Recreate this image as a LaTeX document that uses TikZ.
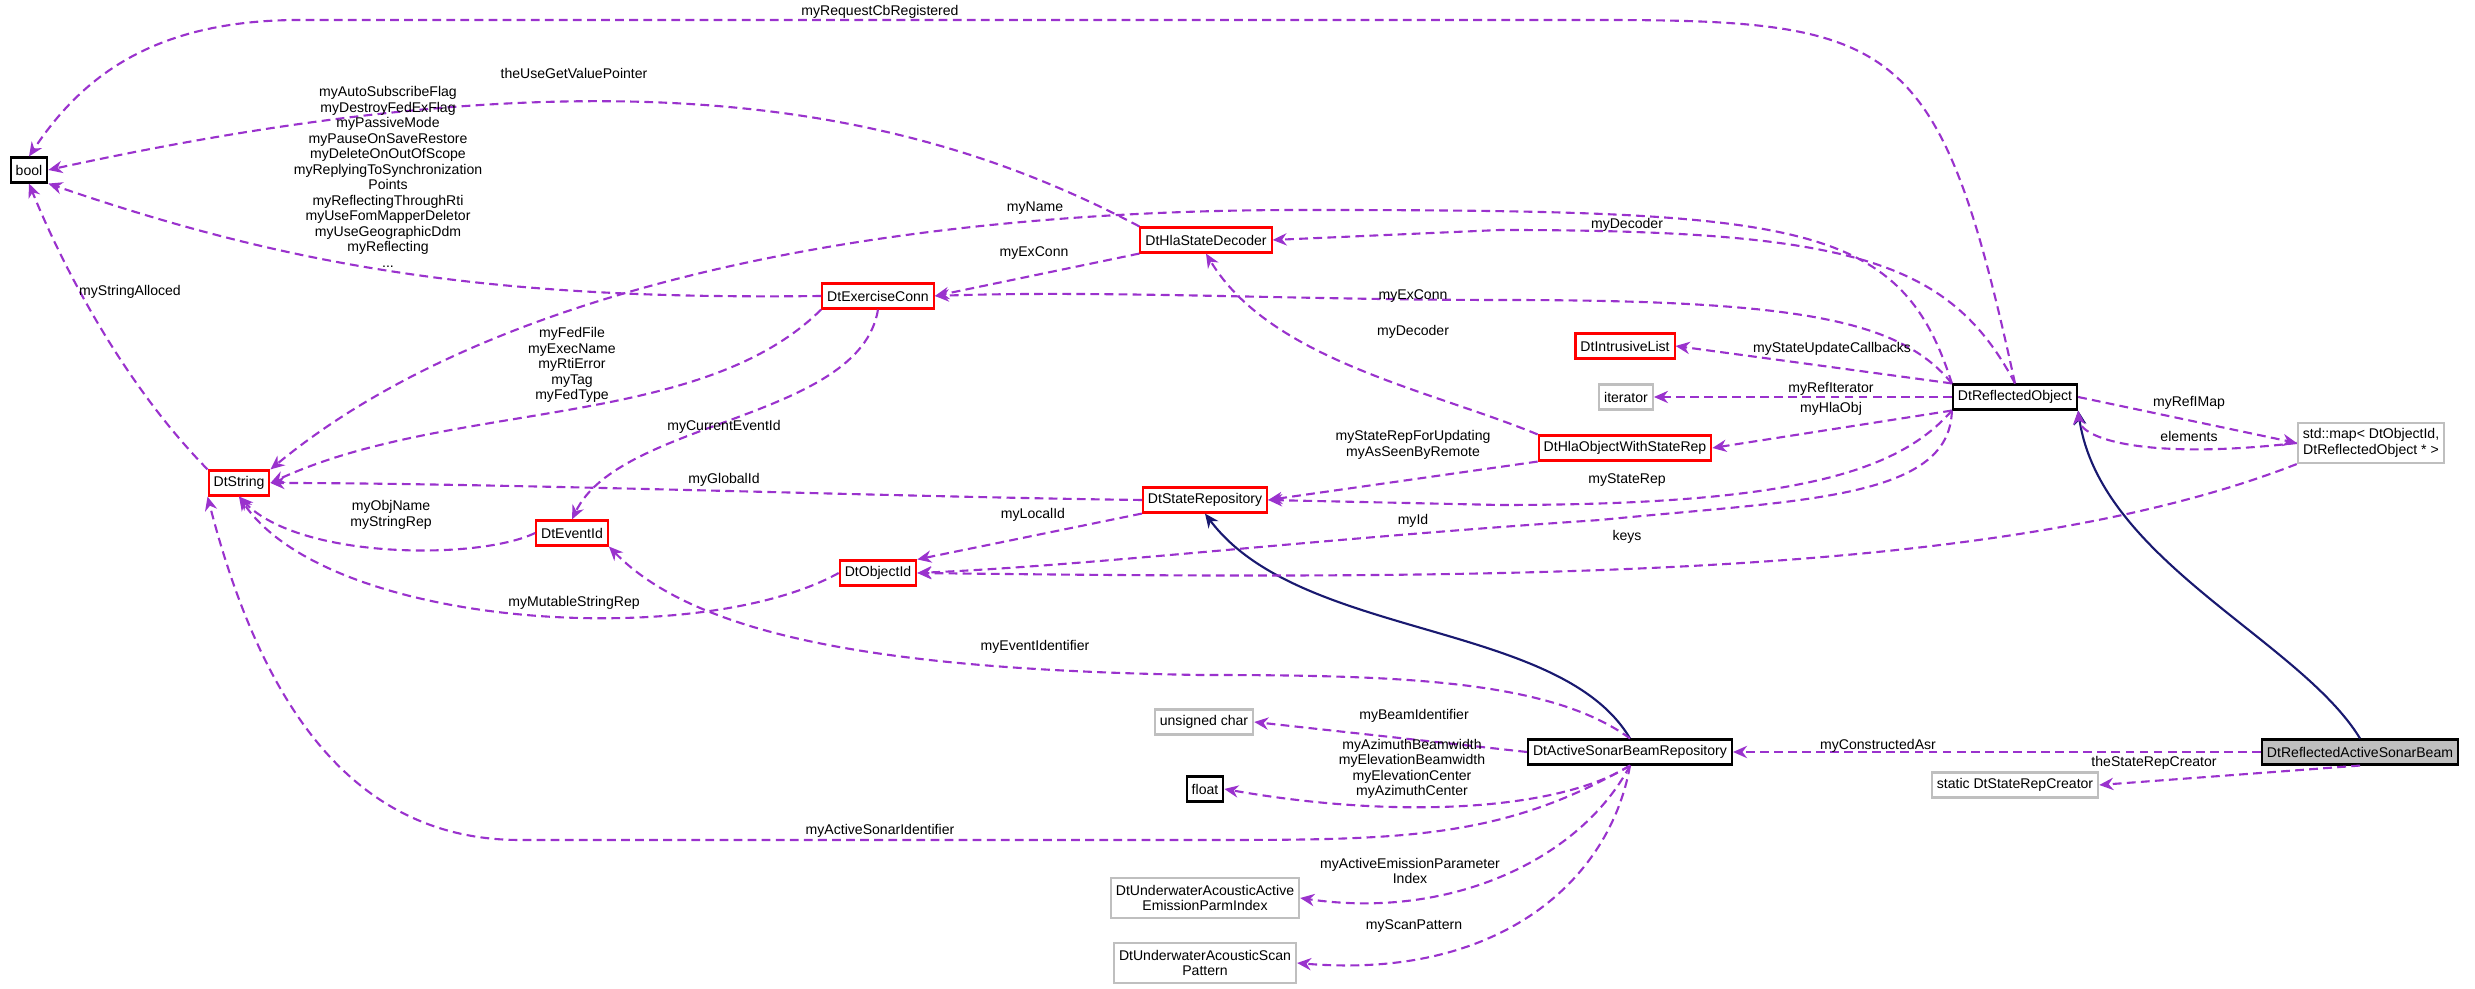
\documentclass[tikz,border=0pt]{standalone}
\usepackage{fontspec}
\setmainfont{Liberation Sans}
\usetikzlibrary{arrows.meta}
\definecolor{dep}{HTML}{9A32CD}
\definecolor{inh}{HTML}{191970}
\tikzset{
    cls/.style={draw, semithick, minimum height=0.25cm, inner xsep=0.05cm, inner ysep=0.02cm, align=center, font=\fontsize{4}{4.4}\selectfont},
    red/.style={cls, draw=red},
    ext/.style={cls, draw=black!25},
    lbl/.style={align=center, font=\fontsize{4}{4.4}\selectfont, inner sep=0.5},
    use/.style={draw=dep, semithick, dash pattern=on 2.5pt off 1.5pt, -{Stealth[length=4pt,width=3.5pt]}},
    base/.style={draw=inh, semithick, -{Stealth[length=4pt,width=3.5pt]}},
}

\begin{document}
\begin{tikzpicture}[x=0.01cm, y=-0.01cm]
    \useasboundingbox (0,0) rectangle (2475,989);

    \node[cls] (bool) at (29,170) {bool};
    \node[red] (str) at (239,483) {DtString};
    \node[red] (exc) at (878,296) {DtExerciseConn};
    \node[red] (dec) at (1206,240) {DtHlaStateDecoder};
    \node[red] (ilist) at (1625,346) {DtIntrusiveList};
    \node[ext] (iter) at (1626,397) {iterator};
    \node[cls] (refl) at (2015,397) {DtReflectedObject};
    \node[ext, minimum height=0.4cm] (map) at (2371,443) {std::map\textless{} DtObjectId,\\DtReflectedObject * \textgreater};
    \node[red] (hla) at (1625,448) {DtHlaObjectWithStateRep};
    \node[red] (srep) at (1205,500) {DtStateRepository};
    \node[red] (evt) at (572,533) {DtEventId};
    \node[red] (oid) at (878,573) {DtObjectId};
    \node[ext] (uchar) at (1204,722) {unsigned char};
    \node[cls] (flt) at (1205,789) {float};
    \node[ext, minimum height=0.4cm] (emis) at (1205,898) {DtUnderwaterAcousticActive\\EmissionParmIndex};
    \node[ext, minimum height=0.4cm] (scan) at (1205,963) {DtUnderwaterAcousticScan\\Pattern};
    \node[cls] (asbr) at (1630,752) {DtActiveSonarBeamRepository};
    \node[cls, fill=black!25] (rasb) at (2360,752) {DtReflectedActiveSonarBeam};
    \node[ext] (creator) at (2015,785) {static DtStateRepCreator};

    % inheritance
    \path[base] (asbr.north) .. controls (1560,620) and (1300,640) .. (srep.south);
    \path[base] (rasb.north) .. controls (2300,640) and (2100,560) .. (refl.south east);

    % members
    \path[use] (refl.north) .. controls (1940,40) and (1900,20) .. (1600,20) -- (300,20) .. controls (150,20) and (80,80) .. (bool.north);
    \path[use] (dec.north west) .. controls (900,100) and (600,50) .. (bool.east);
    \path[use] (exc.west) .. controls (500,300) and (300,270) .. (bool.south east);
    \path[use] (str.north west) .. controls (120,380) and (60,260) .. (bool.south);
    \path[use] (refl.north west) .. controls (1900,220) and (1800,210) .. (1300,210) .. controls (900,210) and (500,280) .. (str.north east);
    \path[use] (exc.south west) .. controls (700,430) and (450,400) .. (str.east);
    \path[use] (srep.west) .. controls (900,497) and (500,483) .. (str.east);
    \path[use] (evt.west) .. controls (480,560) and (300,560) .. (str.south);
    \path[use] (oid.west) .. controls (700,650) and (330,630) .. (str.south);
    \path[use] (asbr.south) .. controls (1500,840) and (1400,840) .. (1200,840) -- (520,840) .. controls (350,840) and (260,700) .. (str.south west);
    \path[use] (exc.south) .. controls (860,420) and (620,420) .. (evt.north);
    \path[use] (dec.south west) -- (exc.east);
    \path[use] (refl.north west) .. controls (1900,320) and (1800,300) .. (1500,300) .. controls (1300,300) and (1100,290) .. (exc.east);
    \path[use] (refl.north) .. controls (1950,260) and (1850,230) .. (1500,230) -- (dec.east);
    \path[use] (hla.north west) .. controls (1430,390) and (1270,360) .. (dec.south);
    \path[use] (refl.north west) -- (ilist.east);
    \path[use] (refl.west) -- (iter.east);
    \path[use] (refl.south west) -- (hla.east);
    \path[use] (hla.south west) -- (srep.east);
    \path[use] (refl.south west) .. controls (1900,470) and (1800,505) .. (1500,505) -- (srep.east);
    \path[use] (srep.south west) -- (oid.north east);
    \path[use] (refl.south west) .. controls (1950,500) and (1800,500) .. (1600,520) .. controls (1300,540) and (1100,565) .. (oid.east);
    \path[use] (map.south west) .. controls (2000,580) and (1500,580) .. (oid.east);
    \path[use] (refl.east) -- (map.west);
    \path[use] (map.west) .. controls (2150,460) and (2080,440) .. (refl.south east);
    \path[use] (asbr.north) .. controls (1550,680) and (1400,675) .. (1200,675) .. controls (900,670) and (700,640) .. (evt.south east);
    \path[use] (asbr.west) -- (uchar.east);
    \path[use] (asbr.south) .. controls (1560,810) and (1400,820) .. (flt.east);
    \path[use] (asbr.south) .. controls (1580,860) and (1450,920) .. (emis.east);
    \path[use] (asbr.south) .. controls (1610,880) and (1500,980) .. (scan.east);
    \path[use] (rasb.west) -- (asbr.east);
    \path[use] (rasb.south) -- (creator.east);

    % labels
    \node[lbl] at (880,12) {myRequestCbRegistered};
    \node[lbl] at (574,73) {theUseGetValuePointer};
    \node[lbl] at (388,177) {myAutoSubscribeFlag\\myDestroyFedExFlag\\myPassiveMode\\myPauseOnSaveRestore\\myDeleteOnOutOfScope\\myReplyingToSynchronization\\Points\\myReflectingThroughRti\\myUseFomMapperDeletor\\myUseGeographicDdm\\myReflecting\\...};
    \node[lbl] at (130,292) {myStringAlloced};
    \node[lbl] at (572,365) {myFedFile\\myExecName\\myRtiError\\myTag\\myFedType};
    \node[lbl] at (724,427) {myCurrentEventId};
    \node[lbl] at (724,480) {myGlobalId};
    \node[lbl] at (1035,208) {myName};
    \node[lbl] at (1627,225) {myDecoder};
    \node[lbl] at (1034,253) {myExConn};
    \node[lbl] at (1413,296) {myExConn};
    \node[lbl] at (1413,332) {myDecoder};
    \node[lbl] at (1832,349) {myStateUpdateCallbacks};
    \node[lbl] at (1831,389) {myRefIterator};
    \node[lbl] at (1831,409) {myHlaObj};
    \node[lbl] at (2189,403) {myRefIMap};
    \node[lbl] at (2189,436) {elements};
    \node[lbl] at (1413,445) {myStateRepForUpdating\\myAsSeenByRemote};
    \node[lbl] at (1627,480) {myStateRep};
    \node[lbl] at (1033,515) {myLocalId};
    \node[lbl] at (1413,521) {myId};
    \node[lbl] at (1627,537) {keys};
    \node[lbl] at (391,515) {myObjName\\myStringRep};
    \node[lbl] at (574,603) {myMutableStringRep};
    \node[lbl] at (1035,647) {myEventIdentifier};
    \node[lbl] at (1414,716) {myBeamIdentifier};
    \node[lbl] at (1412,769) {myAzimuthBeamwidth\\myElevationBeamwidth\\myElevationCenter\\myAzimuthCenter};
    \node[lbl] at (880,831) {myActiveSonarIdentifier};
    \node[lbl] at (1410,871) {myActiveEmissionParameter\\Index};
    \node[lbl] at (1414,926) {myScanPattern};
    \node[lbl] at (1878,746) {myConstructedAsr};
    \node[lbl] at (2154,763) {theStateRepCreator};
\end{tikzpicture}
\end{document}
